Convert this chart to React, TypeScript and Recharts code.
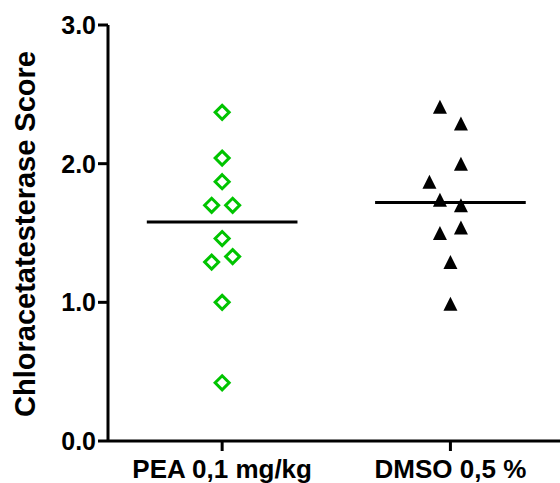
import { ScatterChart, Scatter, XAxis, YAxis, ReferenceLine } from 'recharts';

const categories = ['PEA 0,1 mg/kg', 'DMSO 0,5 %'];
const yTicks = [0, 1, 2, 3];

// scores, with the horizontal spread step of each point
const peaScores = [2.37, 2.04, 1.87, 1.7, 1.7, 1.46, 1.33, 1.29, 1.0, 0.42];
const peaSpread = [0, 0, 0, -1, 1, 0, 1, -1, 0, 0];
const dmsoScores = [2.41, 2.29, 2.0, 1.87, 1.74, 1.7, 1.54, 1.5, 1.29, 0.99];
const dmsoSpread = [-1, 1, 1, -2, -1, 1, 1, -1, 0, 0];

const SPREAD = 0.046;
const HALF_LINE = 0.33;
const FONT = '"Liberation Sans", Arial, sans-serif';

function median(values: number[]) {
  const s = [...values].sort((a, b) => a - b);
  const m = s.length / 2;
  return s.length % 2 ? s[Math.floor(m)] : (s[m - 1] + s[m]) / 2;
}

const peaData = peaScores.map((y, i) => ({ x: 1 + peaSpread[i] * SPREAD, y }));
const dmsoData = dmsoScores.map((y, i) => ({ x: 2 + dmsoSpread[i] * SPREAD, y }));
const medians = [median(peaScores), median(dmsoScores)];

function Diamond(props: any) {
  const { cx, cy } = props;
  const r = 7;
  return (
    <path
      d={`M${cx},${cy - r} L${cx + r},${cy} L${cx},${cy + r} L${cx - r},${cy} Z`}
      fill="none"
      stroke="#00c400"
      strokeWidth={3}
      strokeLinejoin="miter"
    />
  );
}

function Triangle(props: any) {
  const { cx, cy } = props;
  const h = 7;
  return <path d={`M${cx},${cy - h} L${cx + h},${cy + h} L${cx - h},${cy + h} Z`} fill="#000" />;
}

export default function App() {
  return (
    <div style={{ position: 'absolute', left: 0, top: 0, background: '#fff' }}>
      <ScatterChart width={560} height={483} margin={{ top: 25, right: 0, bottom: 0, left: 0 }}>
        <XAxis
          type="number"
          dataKey="x"
          domain={[0.5, 2.48]}
          ticks={[1, 2]}
          tickFormatter={(v: number) => categories[v - 1]}
          height={42}
          axisLine={{ stroke: '#000', strokeWidth: 3 }}
          tickLine={{ stroke: '#000', strokeWidth: 3 }}
          tickSize={10}
          tickMargin={9}
          tick={{ fill: '#000', fontSize: 26, fontWeight: 'bold', fontFamily: FONT }}
          allowDataOverflow
        />
        <YAxis
          type="number"
          dataKey="y"
          domain={[0, 3]}
          ticks={yTicks}
          tickFormatter={(v: number) => v.toFixed(1)}
          width={108}
          axisLine={{ stroke: '#000', strokeWidth: 3 }}
          tickLine={{ stroke: '#000', strokeWidth: 3 }}
          tickSize={10}
          tickMargin={2}
          tick={{ fill: '#000', fontSize: 25, fontWeight: 'bold', fontFamily: FONT }}
          label={() => (
            <text
              x={25}
              y={234}
              transform="rotate(-90 25 234)"
              textAnchor="middle"
              dominantBaseline="central"
              fontSize={29}
              fontWeight="bold"
              fontFamily={FONT}
              fill="#000"
            >
              Chloracetatesterase Score
            </text>
          )}
        />
        {medians.map((m, i) => (
          <ReferenceLine
            key={i}
            segment={[{ x: i + 1 - HALF_LINE, y: m }, { x: i + 1 + HALF_LINE, y: m }]}
            stroke="#000"
            strokeWidth={3}
          />
        ))}
        <Scatter data={peaData} shape={<Diamond />} isAnimationActive={false} />
        <Scatter data={dmsoData} shape={<Triangle />} isAnimationActive={false} />
      </ScatterChart>
    </div>
  );
}
